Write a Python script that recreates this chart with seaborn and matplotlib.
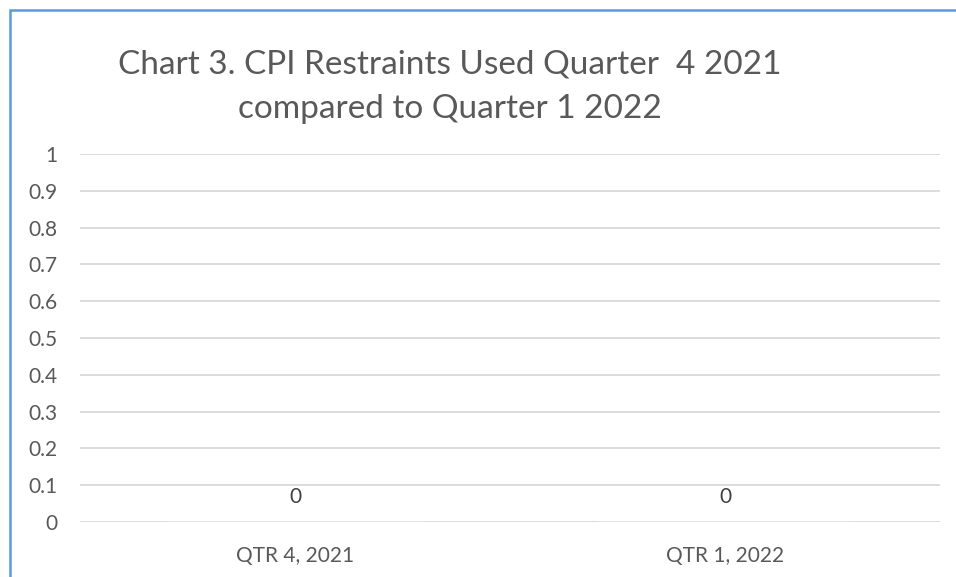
import matplotlib
matplotlib.use("Agg")
import matplotlib.pyplot as plt
import seaborn as sns
import pandas as pd
from matplotlib.patches import Rectangle

quarters = ["QTR 4, 2021", "QTR 1, 2022"]
restraints = [0, 0]
y_ticks = [0, 0.1, 0.2, 0.3, 0.4, 0.5, 0.6, 0.7, 0.8, 0.9, 1]
y_tick_labels = ["0", "0.1", "0.2", "0.3", "0.4", "0.5", "0.6", "0.7", "0.8", "0.9", "1"]
title = "Chart 3. CPI Restraints Used Quarter  4 2021\ncompared to Quarter 1 2022"

sns.set_style("white")
plt.rcParams["font.family"] = ["Lato", "DejaVu Sans"]

df = pd.DataFrame({"Quarter": quarters, "Restraints": restraints})

W, H = 956, 577
fig = plt.figure(figsize=(W / 100, H / 100), dpi=100)
ax = fig.add_axes([80 / W, 1 - 522 / H, 860 / W, (522 - 154) / H])

sns.barplot(data=df, x="Quarter", y="Restraints", color="#4472c4", width=0.6, ax=ax)

ax.set_ylim(0, 1)
ax.set_xlim(-0.5, 1.5)
ax.set_yticks(y_ticks)
ax.set_yticklabels(y_tick_labels)
ax.yaxis.grid(True, color="#d9d9d9", linewidth=1.3)
ax.set_axisbelow(True)
for s in ax.spines.values():
    s.set_visible(False)
ax.tick_params(axis="both", length=0, colors="#595959", labelsize=15)
ax.tick_params(axis="y", pad=16)
ax.tick_params(axis="x", pad=17)
ax.set_xlabel("")
ax.set_ylabel("")

for c in ax.containers:
    ax.bar_label(c, labels=[str(v) for v in restraints], padding=11,
                 color="#404040", fontsize=15)

fig.text(450 / W, 1 - 87 / H, title, ha="center", va="center",
         fontsize=24, color="#595959", linespacing=1.6)

# chart frame (clipped at right and bottom like the source)
fig.patches.append(Rectangle((9.5 / W, -0.1), 1.2, 1 - 9.5 / H + 0.1,
                             transform=fig.transFigure, fill=False,
                             edgecolor="#5b9bd5", linewidth=1.8))

fig.savefig("out.png", dpi=100)
